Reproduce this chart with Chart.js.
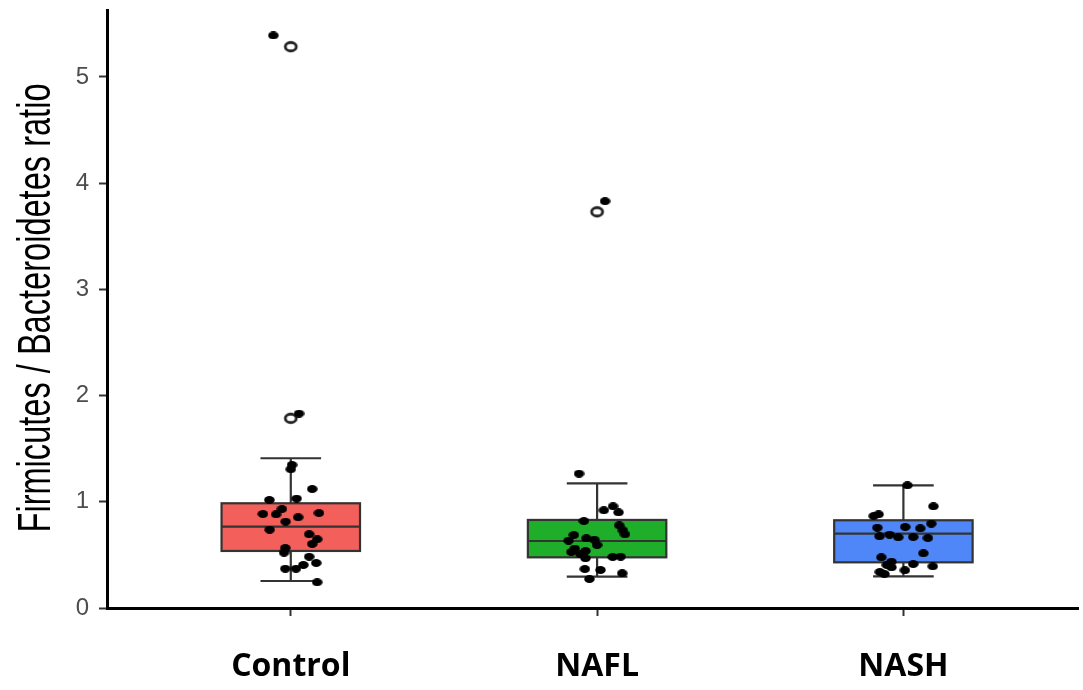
<!DOCTYPE html>
<html>
<head>
<meta charset="utf-8">
<script src="https://cdn.jsdelivr.net/npm/chart.js@4.4.1/dist/chart.umd.min.js"></script>
<style>
  html, body { margin: 0; padding: 0; background: #fff; }
  canvas { display: block; }
</style>
</head>
<body>
<canvas id="ratioChart" width="1083" height="690"></canvas>
<script>
const groups = ['Control', 'NAFL', 'NASH'];
const boxColors = ['#f35f5a', '#1fae2a', '#4f87f8'];
// lower whisker, Q1, median, Q3, upper whisker
const boxStats = [
  [0.254, 0.537, 0.766, 0.986, 1.41],
  [0.295, 0.477, 0.631, 0.829, 1.174],
  [0.298, 0.430, 0.700, 0.826, 1.155]
];
// open circles drawn by the box plot: group, value
const outliers = [[1, 5.285], [1, 1.786], [2, 3.73]];
const yTicks = [0, 1, 2, 3, 4, 5];

// jittered samples: offset from group centre, value
const controlPoints = [
  [-0.057, 5.39], [0.027, 1.83], [0.004, 1.347], [0.000, 1.306], [0.070, 1.12],
  [-0.070, 1.017], [0.019, 1.03], [-0.029, 0.932], [-0.091, 0.885], [-0.048, 0.882],
  [0.092, 0.894], [0.024, 0.854], [-0.017, 0.813], [-0.069, 0.737], [0.060, 0.694],
  [0.086, 0.647], [0.070, 0.603], [-0.018, 0.565], [-0.022, 0.521], [0.060, 0.483],
  [0.083, 0.424], [0.041, 0.405], [0.017, 0.37], [-0.018, 0.37], [0.086, 0.242]
];
const naflPoints = [
  [0.026, 3.83], [-0.059, 1.265], [0.022, 0.92], [0.052, 0.957], [0.070, 0.90],
  [-0.043, 0.819], [0.072, 0.778], [0.084, 0.731], [0.091, 0.694], [-0.076, 0.687],
  [-0.093, 0.634], [-0.035, 0.656], [-0.009, 0.643], [0.000, 0.593], [-0.073, 0.559],
  [-0.084, 0.527], [-0.038, 0.537], [-0.054, 0.506], [-0.038, 0.468], [0.051, 0.48],
  [0.077, 0.483], [-0.040, 0.367], [0.011, 0.358], [0.082, 0.327], [-0.025, 0.273]
];
const nashPoints = [
  [0.013, 1.155], [0.098, 0.957], [-0.097, 0.866], [-0.081, 0.882], [0.091, 0.794],
  [-0.085, 0.756], [0.006, 0.763], [0.055, 0.75], [-0.078, 0.675], [-0.045, 0.69],
  [-0.017, 0.666], [0.032, 0.668], [0.080, 0.659], [0.065, 0.515], [-0.072, 0.477],
  [-0.039, 0.436], [0.032, 0.414], [0.096, 0.392], [-0.054, 0.405], [-0.039, 0.383],
  [0.005, 0.355], [-0.077, 0.339], [-0.062, 0.32]
];

// the original picture is stretched sideways, so the dots are little ellipses
function makeDot(w, h, fill, stroke, lw) {
  const c = document.createElement('canvas');
  c.width = Math.ceil(w + lw * 2);
  c.height = Math.ceil(h + lw * 2);
  const g = c.getContext('2d');
  g.beginPath();
  g.ellipse(c.width / 2, c.height / 2, w / 2, h / 2, 0, 0, Math.PI * 2);
  g.fillStyle = fill;
  g.fill();
  if (stroke) {
    g.lineWidth = lw;
    g.strokeStyle = stroke;
    g.stroke();
  }
  return c;
}
const dot = makeDot(10.5, 8, '#000', null, 0);
const openDot = makeDot(11, 8.5, '#fff', '#222', 2.8);

const toXY = (pts, c) => pts.map(p => ({ x: c + p[0], y: p[1] }));

const boxPlugin = {
  id: 'boxes',
  beforeDatasetsDraw(chart) {
    const { ctx, scales: { x, y } } = chart;
    boxStats.forEach((s, i) => {
      const c = i + 1;
      const left = x.getPixelForValue(c - 0.226);
      const right = x.getPixelForValue(c + 0.226);
      const cx = x.getPixelForValue(c);
      const capL = x.getPixelForValue(c - 0.099);
      const capR = x.getPixelForValue(c + 0.099);
      const [lo, q1, med, q3, hi] = s.map(v => y.getPixelForValue(v));
      ctx.save();
      ctx.strokeStyle = '#333';
      ctx.lineWidth = 2.2;
      ctx.beginPath();
      ctx.moveTo(cx, q3); ctx.lineTo(cx, hi);
      ctx.moveTo(capL, hi); ctx.lineTo(capR, hi);
      ctx.moveTo(cx, q1); ctx.lineTo(cx, lo);
      ctx.moveTo(capL, lo); ctx.lineTo(capR, lo);
      ctx.stroke();
      ctx.fillStyle = boxColors[i];
      ctx.fillRect(left, q3, right - left, q1 - q3);
      ctx.strokeRect(left, q3, right - left, q1 - q3);
      ctx.beginPath();
      ctx.moveTo(left, med); ctx.lineTo(right, med);
      ctx.stroke();
      ctx.restore();
    });
  }
};

// y title, squeezed along its length like the original
const yTitlePlugin = {
  id: 'yTitle',
  afterDraw(chart) {
    const ctx = chart.ctx;
    const text = 'Firmicutes / Bacteroidetes ratio';
    ctx.save();
    ctx.font = '47px "Liberation Sans", Arial, sans-serif';
    const w = ctx.measureText(text).width;
    ctx.translate(50, 308);
    ctx.rotate(-Math.PI / 2);
    ctx.scale(449 / w, 1);
    ctx.fillStyle = '#000';
    ctx.textAlign = 'center';
    ctx.textBaseline = 'alphabetic';
    ctx.fillText(text, 0, 0);
    ctx.restore();
  }
};

const ctx = document.getElementById('ratioChart').getContext('2d');
new Chart(ctx, {
  type: 'scatter',
  data: {
    datasets: [
      { data: toXY(controlPoints, 1), pointStyle: dot },
      { data: toXY(naflPoints, 2), pointStyle: dot },
      { data: toXY(nashPoints, 3), pointStyle: dot },
      { data: outliers.map(o => ({ x: o[0], y: o[1] })), pointStyle: openDot }
    ]
  },
  options: {
    responsive: false,
    animation: false,
    layout: { padding: { top: 10, left: 0, right: 0, bottom: 0 } },
    plugins: {
      legend: { display: false },
      tooltip: { enabled: false }
    },
    scales: {
      x: {
        type: 'linear',
        min: 0.4,
        max: 3.57,
        afterBuildTicks: s => { s.ticks = groups.map((g, i) => ({ value: i + 1 })); },
        afterFit: s => { s.height = 82; s.paddingLeft = 0; s.paddingRight = 0; },
        ticks: {
          callback: v => groups[Math.round(v) - 1],
          font: { family: '"Open Sans", sans-serif', size: 32, weight: 'bold' },
          color: '#000',
          padding: 32,
          autoSkip: false,
          maxRotation: 0
        },
        grid: { display: true, drawOnChartArea: false, drawTicks: true, tickLength: 8, tickColor: '#333', tickWidth: 2 },
        border: { display: true, color: '#000', width: 3 }
      },
      y: {
        min: 0,
        max: 5.63,
        afterBuildTicks: s => { s.ticks = yTicks.map(v => ({ value: v })); },
        afterFit: s => { s.width = 107; s.paddingTop = 0; s.paddingBottom = 0; },
        ticks: {
          font: { family: '"Liberation Sans", Arial, sans-serif', size: 24 },
          color: '#4d4d4d',
          padding: 10
        },
        grid: { display: true, drawOnChartArea: false, drawTicks: true, tickLength: 8, tickColor: '#333', tickWidth: 2 },
        border: { display: true, color: '#000', width: 3 }
      }
    }
  },
  plugins: [boxPlugin, yTitlePlugin]
});
</script>
</body>
</html>
